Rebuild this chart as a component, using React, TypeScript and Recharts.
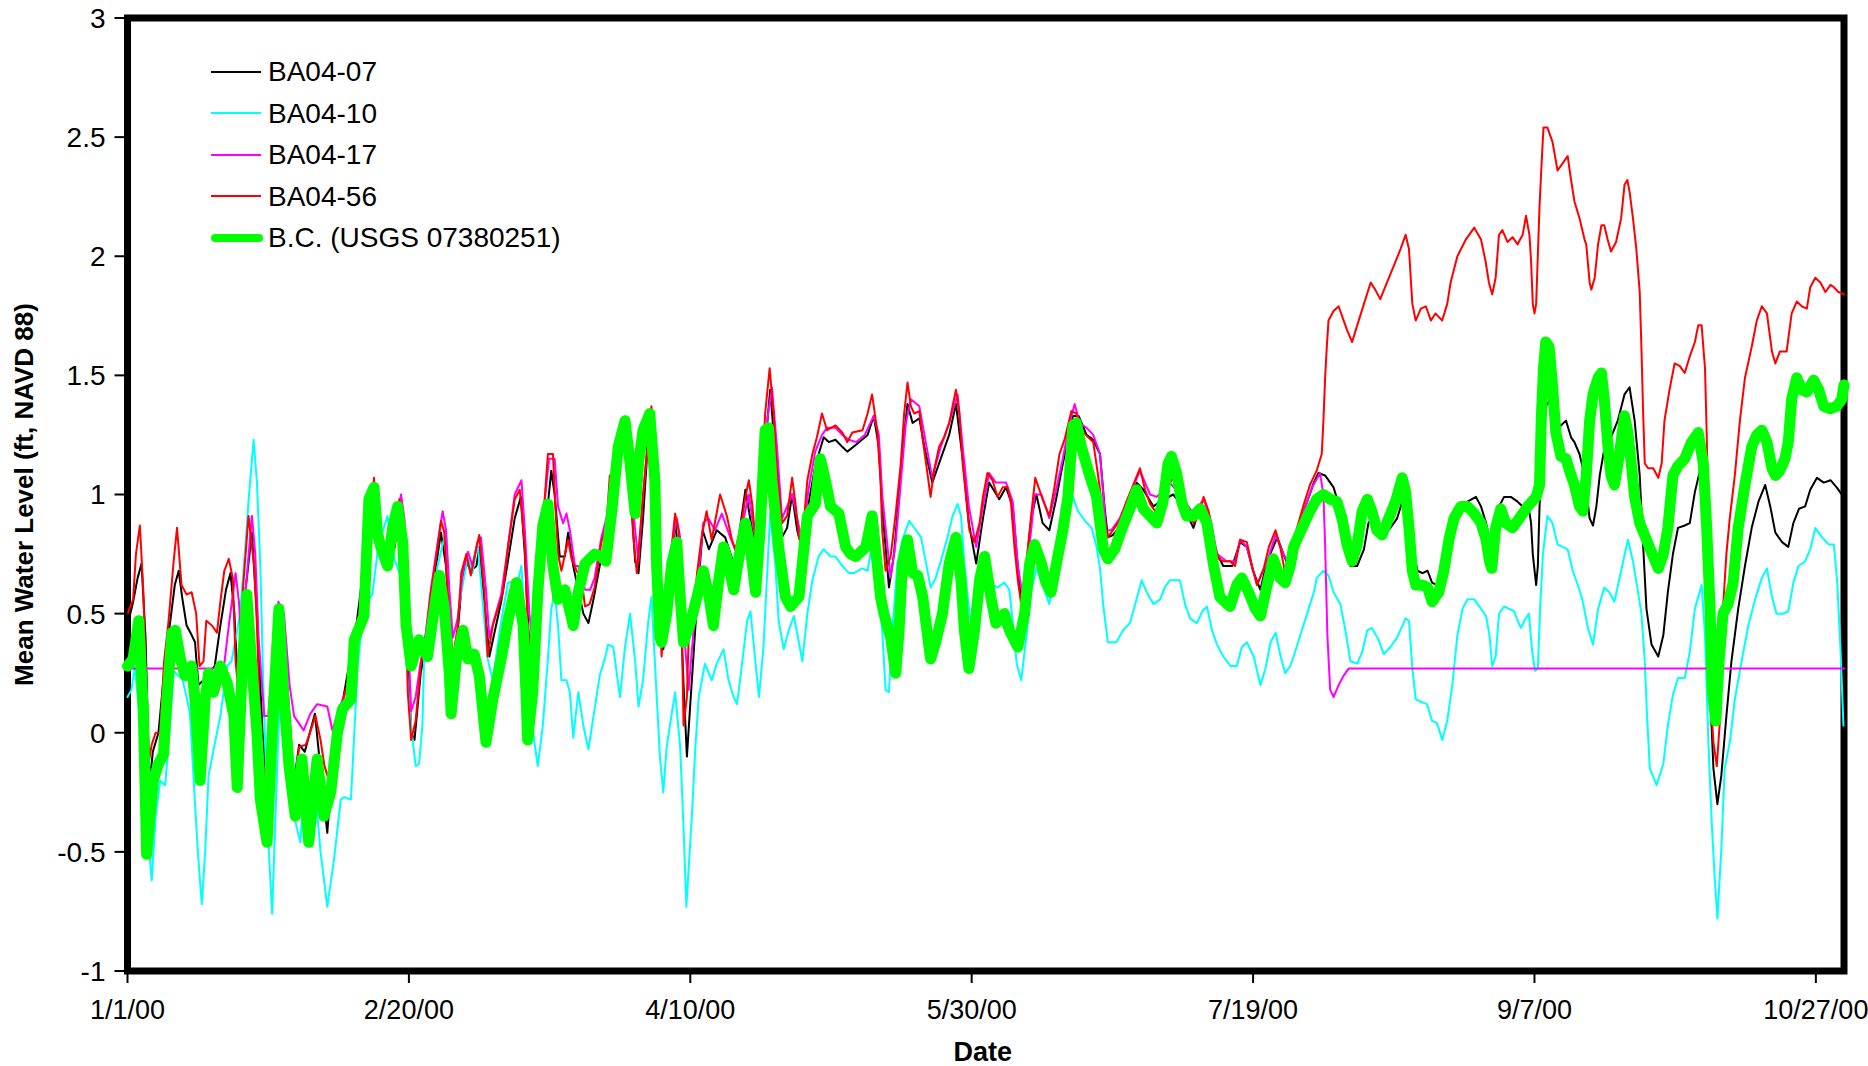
import React from 'react';
import { LineChart, Line, XAxis, YAxis, ReferenceArea, Legend, Label } from 'recharts';

// Axis ticks: x is day of year 2000 (0 = 1/1/00)
const X_TICKS = [0, 50, 100, 150, 200, 250, 300];
const X_TICK_LABELS = ['1/1/00', '2/20/00', '4/10/00', '5/30/00', '7/19/00', '9/7/00', '10/27/00'];
const Y_TICKS = [-1, -0.5, 0, 0.5, 1, 1.5, 2, 2.5, 3];

// [day, mean water level (ft, NAVD 88)]
const BA04_07: [number, number][] = [
  [0,0.45],[1,0.55],[1.8,0.65],[2.5,0.71],[3.2,0.4],[3.9,-0.22],[4.5,-0.08],[5.5,0.0],[6.5,0.25],[7.5,0.45],[8.4,0.62],[9.1,0.68],[9.7,0.57],[10.5,0.45],[11.4,0.41],[12.0,0.38],[12.6,0.2],[13.5,0.22],[14.4,0.25],[15.5,0.28],[16.5,0.45],[17.5,0.6],[18.3,0.67],[19.0,0.5],[19.6,0.2],[20.5,0.5],[22.1,0.84],[23.0,0.5],[24.0,0.0],[25.5,-0.42],[26.2,-0.1],[27.0,0.45],[28.0,0.2],[29.5,-0.22],[30.5,-0.05],[31.5,-0.08],[33.3,0.08],[34.5,-0.2],[35.5,-0.42],[36.5,-0.1],[38.0,0.1],[39.5,0.3],[40.5,0.42],[42.0,0.7],[43.5,1.0],
  [44.4,0.83],[45.5,0.74],[46.5,0.72],[47.5,0.78],[48.3,0.95],[49.5,0.55],[50.4,0.0],[51.0,-0.03],[52.1,0.25],[53.3,0.4],[54.5,0.65],[55.7,0.84],[56.6,0.7],[57.5,0.3],[58.4,0.35],[59.3,0.6],[60.2,0.72],[61.0,0.68],[62.0,0.7],[62.5,0.78],[63.4,0.55],[64.3,0.32],[65.2,0.42],[66.4,0.55],[67.6,0.72],[68.8,0.9],[69.9,0.99],[70.6,0.75],[71.4,0.35],[72.0,0.28],[73.0,0.4],[74.1,0.82],[75.3,1.1],[75.9,1.0],[76.8,0.74],[77.7,0.74],[78.3,0.84],[79.2,0.7],[80.1,0.6],[81.0,0.5],[81.9,0.46],[82.8,0.56],[83.9,0.7],[85.1,0.82],[86.0,1.0],
  [87.0,1.05],[88.4,1.27],[89.3,1.05],[90.2,0.72],[90.8,0.67],[91.6,0.9],[92.8,1.34],[93.7,1.0],[94.5,0.55],[95.2,0.35],[96.1,0.5],[97.3,0.9],[98.0,0.7],[98.8,0.2],[99.4,-0.1],[100.0,0.12],[101.2,0.55],[102.2,0.85],[103.3,0.77],[104.7,0.85],[106.2,0.82],[107.7,0.71],[108.6,0.82],[109.8,1.02],[111.0,0.85],[111.6,0.78],[112.5,0.9],[113.3,1.2],[114.2,1.44],[115.0,1.2],[116.3,0.82],[117.2,0.86],[118.1,1.0],[119.0,0.85],[119.9,0.77],[121.0,0.96],[122.2,1.12],[123.7,1.24],[124.6,1.22],[125.8,1.23],[127.0,1.2],[127.9,1.18],
  [129.5,1.21],[131.5,1.25],[132.6,1.33],[133.5,1.2],[134.1,0.95],[135.3,0.61],[136.2,0.75],[137.1,1.0],[138.0,1.25],[138.6,1.38],[139.5,1.3],[140.7,1.32],[141.6,1.2],[143.0,1.05],[144.5,1.15],[146.0,1.25],[147.2,1.38],[148.4,1.15],[149.5,0.88],[150.8,0.71],[152.0,0.9],[153.1,1.05],[154.9,0.98],[156.1,1.03],[157.3,0.95],[158.0,0.75],[158.8,0.55],[159.7,0.7],[160.6,0.9],[161.5,1.0],[162.6,0.88],[163.8,0.85],[165.0,0.98],[166.2,1.13],[168.0,1.33],
  [169.0,1.33],[170.4,1.25],[171.6,1.23],[172.8,1.17],[173.6,0.95],[174.2,0.82],[175.1,0.83],[176.6,0.87],[178.1,0.95],[179.3,1.05],[180.5,1.02],[182.3,0.95],[183.5,0.97],[185.8,1.0],[187.6,0.95],[189.4,0.86],[190.6,0.95],[191.8,0.9],[193.0,0.78],[194.7,0.7],[196.3,0.7],[197.7,0.8],[198.9,0.78],[200.0,0.68],[201.3,0.6],[202.5,0.72],[204.3,0.82],[205.4,0.75],[206.6,0.68],
  [207.2,0.8],[209.0,0.93],[210.8,1.05],[211.6,1.09],[212.8,1.08],[214.3,1.03],[215.2,0.96],[216.1,0.85],[217.3,0.7],[218.5,0.7],[219.7,0.77],[220.5,0.88],[221.1,0.9],[222.0,0.83],[223.2,0.83],[224.4,0.86],[225.6,0.9],[226.5,0.97],[227.1,0.9],[228.0,0.86],[228.6,0.75],[229.2,0.68],[230.1,0.67],[231.0,0.68],[231.8,0.63],[232.7,0.62],[233.9,0.68],[235.1,0.81],[236.3,0.92],[238.1,0.97],[239.6,0.99],[240.5,0.95],[241.4,0.88],[242.2,0.79],[242.8,0.86],[243.7,0.95],[244.6,0.99],[245.8,0.99],[247.0,0.97],[247.9,0.95],[248.8,0.97],[249.4,0.88],[249.7,0.75],[250.3,0.62],[250.6,0.7],[250.9,0.95],[251.5,1.22],[252.0,1.37],[252.9,1.4],[253.8,1.31],[254.7,1.29],[255.6,1.31],[256.5,1.24],[257.1,1.22],[258.0,1.17],[258.9,1.08],
  [259.8,0.9],[260.4,0.87],[261.0,0.95],[261.6,1.08],[262.4,1.19],[263.6,1.24],[264.8,1.31],[266.0,1.42],[266.9,1.45],[267.8,1.31],[268.7,1.08],[269.3,0.79],[269.9,0.52],[270.8,0.37],[272.0,0.32],[272.9,0.41],[273.7,0.59],[274.6,0.75],[275.5,0.86],[276.7,0.87],[277.6,0.88],[278.5,1.01],[279.4,1.1],[280.0,1.08],[280.6,0.75],[281.2,0.18],[281.8,-0.15],[282.5,-0.3],[283.2,-0.18],[284.1,0.07],[285.0,0.3],[286.2,0.52],[287.4,0.7],[288.6,0.86],[289.8,0.97],[291.0,1.04],[291.9,0.95],[292.8,0.84],[294.0,0.8],[295.1,0.78],[296.0,0.88],[297.0,0.94],[298.1,0.95],[299.0,1.02],[300.2,1.07],[301.4,1.05],[302.6,1.06],[303.7,1.03],[304.9,0.99],
];

const BA04_10: [number, number][] = [
  [0,0.15],[0.7,0.18],[1.3,0.28],[2.0,0.1],[2.6,-0.1],[3.5,-0.4],[4.3,-0.62],[5.0,-0.35],[5.8,-0.2],[6.7,-0.22],[7.6,0.05],[8.2,0.26],[9.0,0.24],[9.7,0.23],[10.5,0.15],[11.1,0.08],[12.0,-0.3],[12.5,-0.5],[13.2,-0.72],[13.8,-0.5],[14.4,-0.18],[15.3,-0.07],[16.5,0.07],[17.7,0.28],[18.5,0.3],[20.0,0.5],[21.0,0.8],[21.5,0.97],[22.4,1.23],[23.0,1.05],[23.6,0.7],[24.2,0.14],[25.1,-0.49],[25.7,-0.76],[26.6,-0.14],[27.4,0.45],[28.0,0.2],[28.7,-0.2],[29.6,-0.35],[30.7,-0.46],[31.3,-0.25],[32.0,-0.28],[33.1,-0.17],[34.3,-0.5],[35.5,-0.73],[36.7,-0.53],[37.9,-0.28],[38.5,-0.27],[39.7,-0.28],[40.3,0.0],[40.9,0.28],[41.5,0.42],[42.6,0.55],[43.5,0.58],[44.6,0.79],[46.2,0.91],[47.4,0.73],[48.5,0.66],[49.7,0.24],[50.4,0.03],[51.2,-0.14],[51.8,-0.13],[52.4,0.03],[52.7,0.31],[53.9,0.48],[55.1,0.7],[56.6,0.85],[57.5,0.38],[58.4,0.45],[59.3,0.59],[60.5,0.74],[61.3,0.67],[62.2,0.8],[63.4,0.47],[64.0,0.31],[64.9,0.22],[66.4,0.47],[67.6,0.63],[69.4,0.64],[70.0,0.7],[70.6,0.45],[71.4,0.17],[72.3,-0.04],[72.9,-0.14],[73.8,0.03],[74.7,0.31],[75.3,0.52],[75.9,0.59],[76.5,0.45],[77.1,0.22],[78.0,0.22],[78.6,0.17],[79.2,-0.02],[80.1,0.17],[81.0,0.03],[81.9,-0.07],[83.0,0.1],[83.9,0.24],[84.8,0.31],[85.4,0.37],
  [86.3,0.36],[87.5,0.15],[88.4,0.36],[89.3,0.5],[90.2,0.3],[90.8,0.11],[91.6,0.22],[92.5,0.46],[93.1,0.57],[93.7,0.3],[94.6,-0.1],[95.2,-0.25],[95.8,-0.06],[96.7,0.08],[97.3,0.17],[98.2,-0.06],[98.8,-0.4],[99.3,-0.73],[100.3,-0.34],[100.9,-0.06],[101.5,0.15],[102.6,0.29],[103.8,0.22],[104.7,0.29],[105.9,0.35],[106.8,0.22],[107.7,0.15],[108.3,0.12],[109.2,0.29],[110.1,0.47],[110.7,0.51],[111.6,0.29],[112.2,0.15],[113.0,0.36],[113.6,0.64],[114.2,0.92],[115.1,0.71],[115.7,0.47],[116.6,0.35],[117.5,0.43],[118.4,0.49],[119.3,0.38],[119.9,0.3],[120.8,0.5],[121.7,0.64],[122.8,0.74],[123.7,0.77],[124.9,0.74],[125.8,0.74],[127.0,0.7],[128.2,0.67],[129.1,0.67],[130.5,0.69],[131.5,0.68],[132.3,0.79],[132.9,0.71],[133.5,0.57],[134.1,0.43],[134.7,0.18],[135.3,0.17],[135.9,0.43],[136.8,0.71],[137.7,0.81],[138.9,0.89],[140.1,0.85],[141.0,0.82],[141.9,0.71],[142.7,0.61],[143.6,0.65],[144.5,0.72],[145.7,0.82],[146.6,0.91],[147.5,0.96],[148.1,0.91],[148.7,0.71],[149.6,0.5],[150.2,0.43],[151.1,0.5],[152.0,0.6],[152.8,0.64],[153.7,0.62],[154.6,0.61],[155.8,0.63],[156.7,0.6],[157.3,0.46],[158.0,0.29],[158.8,0.22],[159.7,0.4],[160.6,0.6],[161.5,0.69],[162.6,0.62],[163.8,0.54],[164.7,0.67],[165.6,0.81],[166.8,0.89],[168.0,0.99],[168.9,0.93],[170.1,0.89],[171.3,0.86],[172.2,0.78],[172.8,0.69],[173.4,0.53],[174.2,0.38],[175.7,0.38],[176.9,0.43],[178.1,0.46],[179.3,0.56],[180.2,0.64],[181.1,0.59],[182.3,0.54],[183.5,0.56],[184.3,0.61],[185.2,0.64],[187.0,0.64],[187.9,0.54],[188.8,0.48],[190.0,0.46],[191.0,0.51],[191.8,0.53],[192.7,0.43],[193.6,0.37],[194.7,0.32],[196.0,0.28],[197.1,0.28],[198.0,0.36],[198.9,0.38],[200.1,0.32],[201.3,0.2],[202.2,0.27],[203.1,0.38],[204.0,0.42],[204.8,0.33],[205.7,0.25],[206.6,0.28],[207.2,0.32],[208.4,0.41],[209.6,0.5],[210.8,0.59],[211.3,0.65],[212.5,0.68],[213.4,0.66],[214.3,0.59],[215.5,0.54],[216.4,0.43],[217.3,0.3],[218.5,0.29],[219.4,0.34],[220.3,0.43],[221.1,0.44],[222.3,0.39],[223.2,0.33],[224.4,0.36],[225.6,0.4],[227.1,0.48],[227.7,0.47],[228.3,0.27],[228.9,0.14],[229.8,0.13],[230.9,0.12],[231.8,0.05],[232.7,0.04],[233.6,-0.03],[234.5,0.05],[235.4,0.2],[236.3,0.41],[237.2,0.52],[238.1,0.56],[239.3,0.56],[240.5,0.52],[241.4,0.49],[242.0,0.41],[242.5,0.28],[243.1,0.32],[243.7,0.5],[244.6,0.53],[245.5,0.52],[246.4,0.51],[247.0,0.47],[247.6,0.44],[248.2,0.47],[249.0,0.5],[249.6,0.34],[250.1,0.26],[250.6,0.27],[251.0,0.52],[251.5,0.75],[252.3,0.91],[253.2,0.88],[254.1,0.79],[255.0,0.78],[255.9,0.77],[256.8,0.68],[257.7,0.62],[258.5,0.56],[259.5,0.44],[260.4,0.37],[261.3,0.52],[262.4,0.61],[263.3,0.59],[264.2,0.55],[265.4,0.68],[266.6,0.81],[267.5,0.72],[268.4,0.59],[269.0,0.5],[269.6,0.3],[270.0,0.07],[270.5,-0.15],[271.7,-0.22],[272.9,-0.13],[273.7,0.03],[274.6,0.16],[275.5,0.23],[276.7,0.23],[277.6,0.34],[278.5,0.52],[279.7,0.62],[280.3,0.41],[280.9,-0.04],[281.5,-0.38],[282.0,-0.6],[282.5,-0.78],[283.2,-0.49],[283.8,-0.15],[284.7,-0.04],[285.6,0.14],[286.8,0.3],[288.0,0.45],[289.2,0.56],[290.4,0.65],[291.3,0.69],[292.2,0.57],[293.0,0.5],[294.2,0.5],[295.1,0.51],[296.0,0.63],[296.9,0.7],[298.1,0.72],[299.0,0.77],[299.9,0.86],[301.1,0.82],[302.3,0.79],[303.2,0.79],[303.8,0.63],[304.4,0.34],[304.9,0.03],
];

const BA04_17: [number, number][] = [
  [0,0.27],[17.1,0.27],[18.0,0.45],[19.2,0.67],[19.8,0.55],[20.3,0.35],[21.0,0.6],[22.1,0.91],[22.7,0.75],[23.3,0.4],[24.3,0.07],[25.0,0.07],[25.8,0.3],[26.8,0.55],[27.8,0.5],[28.8,0.2],[29.6,0.07],[31.3,0.01],[32.5,0.08],[33.7,0.12],[35.5,0.11],[36.4,0.01],[37.9,0.12],[39.2,0.2],[40.3,0.38],[41.2,0.5],[42.3,0.7],[43.5,0.98],
  [44.4,0.88],[45.5,0.8],[46.5,0.8],[47.5,0.85],[48.6,1.0],[49.2,0.9],[49.8,0.45],[50.4,0.09],[51.2,0.15],[52.1,0.3],[53.0,0.42],[53.9,0.6],[55.0,0.78],[56.0,0.93],[56.6,0.85],[57.2,0.6],[57.8,0.4],[58.7,0.48],[59.6,0.68],[60.5,0.76],[61.3,0.7],[62.2,0.8],[62.8,0.82],[63.7,0.6],[64.3,0.4],[65.2,0.48],[66.4,0.58],[67.6,0.78],[68.8,1.0],[70.0,1.06],[70.6,0.85],[71.4,0.5],[72.0,0.38],[72.9,0.42],[73.8,0.9],[74.9,1.15],[75.9,1.15],[76.5,0.95],[77.4,0.88],[78.0,0.92],[78.6,0.85],[79.5,0.7],[80.1,0.7],[81.3,0.6],[82.2,0.6],[83.0,0.65],[84.2,0.82],[85.4,0.93],[86.0,1.05],
  [87.0,1.1],[88.4,1.28],[89.3,1.12],[90.2,0.85],[90.8,0.72],[91.6,1.0],[92.8,1.3],[93.4,1.35],[94.0,1.0],[94.9,0.45],[95.5,0.5],[96.4,0.75],[97.6,0.9],[98.2,0.82],[98.8,0.45],[99.7,0.18],[100.3,0.35],[101.2,0.6],[102.3,0.88],[103.2,0.9],[104.4,0.85],[105.6,0.92],[107.1,0.82],[108.3,0.75],[109.5,0.9],[110.4,1.0],[111.3,0.85],[112.2,0.82],[113.3,1.25],[114.5,1.45],[115.4,1.2],[116.3,0.9],[117.2,0.95],[118.1,1.0],[119.0,0.9],[119.9,0.8],[121.0,1.02],[122.2,1.18],[123.4,1.25],[124.3,1.28],[125.8,1.28],[127.0,1.25],[128.2,1.23],
  [129.5,1.22],[131.0,1.25],[132.6,1.33],[133.5,1.25],[134.1,1.0],[135.6,0.65],[136.5,0.8],[137.4,1.05],[138.3,1.3],[139.2,1.4],[140.7,1.37],[141.6,1.25],[143.0,1.07],[144.5,1.2],[146.0,1.3],[147.5,1.42],[148.4,1.2],[149.5,0.95],[150.8,0.78],[152.0,0.95],[153.1,1.09],[154.3,1.05],[156.1,1.05],[157.3,0.97],[158.2,0.7],[159.1,0.57],[160.0,0.72],[161.2,1.0],[162.4,1.0],[163.8,0.9],[165.0,1.02],[166.2,1.15],[167.4,1.3],[168.3,1.38],[169.2,1.3],[170.4,1.28],[171.6,1.25],
  [172.8,1.17],[173.9,0.85],[174.8,0.85],[176.3,0.9],[178.1,1.0],[179.9,1.1],[181.7,1.0],[182.9,0.99],[185.2,1.05],[187.0,1.0],[189.4,0.92],[191.2,0.98],[192.4,0.9],[193.6,0.75],[195.3,0.72],[196.8,0.72],[197.7,0.81],[198.9,0.78],[200.7,0.62],[202.5,0.72],[204.0,0.83],[205.4,0.75],[206.6,0.7],
  [207.5,0.8],[209.0,0.93],[210.5,1.03],[211.9,1.09],[212.5,1.0],[212.8,0.79],[213.2,0.41],[213.7,0.18],[214.3,0.15],[215.2,0.2],[216.1,0.24],[217.0,0.27],[305,0.27],
];

const BA04_56: [number, number][] = [
  [0,0.5],[1,0.56],[1.5,0.75],[2.2,0.87],[2.8,0.6],[3.3,0.2],[3.8,-0.12],[4.3,-0.05],[5,0.0],[5.8,0.0],[6.5,0.3],[7.3,0.47],[8.2,0.72],[8.8,0.86],[9.6,0.62],[10.5,0.58],[11.4,0.59],[12.2,0.5],[12.8,0.28],[13.5,0.3],[14.0,0.47],[15.0,0.45],[15.9,0.42],[16.5,0.55],[17.2,0.68],[18,0.73],[18.7,0.65],[19.2,0.3],[19.8,0.15],[20.5,0.6],[21.5,0.91],[22.5,0.7],[23,0.45],[23.6,0.0],[24.8,-0.33],[25.6,-0.3],[26.3,0.1],[27,0.47],[28,0.35],[29,0.0],[29.6,-0.24],[30.5,-0.06],[31.7,-0.05],[33.4,0.07],[34.3,-0.03],[35.0,-0.14],[35.8,-0.2],[36.7,0.0],[38,0.11],[39.5,0.24],[40.9,0.46],[42,0.6],[43.2,0.9],[43.8,1.07],
  [44.4,0.86],[45.5,0.78],[46.5,0.78],[47.5,0.8],[48.3,0.98],[48.9,0.87],[49.5,0.59],[49.8,0.17],[50.4,-0.03],[51.2,0.05],[52.1,0.28],[53.0,0.4],[53.9,0.59],[54.8,0.73],[55.7,0.89],[56.3,0.84],[56.9,0.59],[57.8,0.31],[58.7,0.45],[59.3,0.67],[60.2,0.75],[61.0,0.66],[62.0,0.78],[62.5,0.83],[63.4,0.59],[64.0,0.32],[64.9,0.45],[65.8,0.52],[66.7,0.59],[67.6,0.78],[68.8,0.98],[69.7,1.02],[70.6,0.78],[71.1,0.45],[71.7,0.31],[72.6,0.33],[73.8,0.87],[74.7,1.17],[75.6,1.17],[76.0,0.96],[76.5,0.75],[77.1,0.68],[78.3,0.81],[78.9,0.73],[79.8,0.68],[80.7,0.64],[81.3,0.53],[82.1,0.54],[83.0,0.61],[84.2,0.8],[85.1,0.87],[85.7,1.08],
  [86.0,1.06],[86.9,1.1],[88.4,1.3],[89.0,1.15],[89.9,0.82],[90.5,0.67],[91.0,0.82],[91.6,0.99],[92.5,1.24],[93.1,1.37],[93.7,1.1],[94.3,0.71],[94.9,0.32],[95.2,0.43],[95.8,0.57],[96.7,0.78],[97.3,0.92],[97.9,0.85],[98.5,0.43],[98.8,0.03],[99.4,0.15],[99.7,0.39],[100.6,0.5],[101.2,0.67],[102.0,0.82],[102.9,0.93],[103.8,0.81],[105.3,1.0],[106.5,0.91],[107.4,0.81],[108.0,0.77],[108.9,0.85],[109.8,0.99],[110.4,1.06],[111.0,0.96],[111.6,0.8],[112.4,0.92],[113.3,1.34],[114.1,1.53],[114.8,1.34],[115.4,1.1],[116.3,0.88],[117.2,0.91],[118.1,1.07],[118.7,0.96],[119.3,0.82],[119.9,0.81],[120.8,1.06],[121.7,1.17],[122.5,1.24],[123.4,1.34],[124.3,1.27],[125.8,1.29],
  [127.0,1.26],[127.9,1.22],[128.8,1.26],[130.6,1.27],[131.5,1.34],[132.3,1.42],[133.2,1.27],[133.8,1.06],[134.1,0.85],[134.7,0.68],[135.6,0.74],[136.5,0.92],[137.4,1.13],[138.0,1.34],[138.6,1.47],[139.2,1.37],[139.8,1.34],[140.7,1.35],[141.3,1.23],[141.9,1.13],[142.7,0.99],[143.3,1.1],[144.2,1.2],[145.1,1.24],[146.0,1.3],[147.2,1.44],[147.8,1.34],[148.4,1.13],[149.0,0.99],[149.6,0.85],[150.5,0.8],[151.4,0.88],[152.0,0.99],[152.8,1.09],[153.7,1.06],[154.6,0.99],[155.5,1.03],[156.4,1.03],[157.0,0.96],[157.6,0.78],[158.2,0.64],[158.8,0.54],[159.7,0.71],[160.6,0.92],[161.3,1.07],[162.6,0.98],[163.8,0.91],[164.7,1.03],[165.6,1.17],[166.5,1.23],[167.7,1.35],[168.6,1.34],[169.5,1.27],[170.7,1.24],[171.6,1.22],
  [172.4,1.09],[173.6,0.88],[174.2,0.82],[175.1,0.85],[176.3,0.89],[177.5,0.97],[178.7,1.04],[179.9,1.11],[180.8,1.02],[181.7,0.96],[182.6,0.93],[183.8,0.97],[185.0,1.04],[185.8,1.07],[187.0,1.01],[188.2,0.94],[189.4,0.88],[190.3,0.91],[191.2,0.99],[192.1,0.93],[193.0,0.8],[193.9,0.73],[194.7,0.72],[195.9,0.72],[196.8,0.7],[197.7,0.81],[198.9,0.8],[199.8,0.7],[200.7,0.62],[201.9,0.69],[202.8,0.78],[204.0,0.85],[204.9,0.77],[205.7,0.67],[206.6,0.69],[207.2,0.81],
  [208.9,0.95],[210.1,1.04],[211.3,1.1],[212.2,1.17],[212.5,1.31],[212.8,1.49],[213.1,1.62],[213.4,1.73],[214.3,1.77],[215.2,1.79],[216.1,1.73],[216.7,1.69],[217.6,1.64],[218.5,1.71],[219.7,1.8],[220.9,1.89],[221.7,1.86],[222.6,1.82],[223.8,1.89],[225.0,1.96],[226.2,2.03],[227.1,2.09],[227.7,2.03],[228.3,1.8],[228.9,1.73],[229.8,1.78],[230.7,1.79],[231.6,1.73],[232.4,1.76],[233.6,1.73],[234.5,1.8],[235.1,1.89],[236.3,2.0],[237.8,2.07],[239.3,2.12],[240.5,2.07],[241.3,1.98],[241.9,1.89],[242.5,1.84],[243.1,1.91],[243.7,2.09],[244.3,2.11],[245.2,2.06],[246.1,2.08],[247.0,2.05],[247.9,2.09],[248.5,2.17],[249.1,2.09],[249.4,1.98],[249.7,1.8],[250.0,1.76],[250.3,1.8],[250.9,2.21],[251.2,2.36],[251.6,2.54],[252.3,2.54],[253.2,2.48],[254.1,2.36],[255.0,2.39],[255.9,2.42],[256.5,2.32],[257.1,2.23],[258.0,2.16],[258.9,2.07],
  [259.2,2.05],[259.8,1.89],[260.1,1.86],[260.7,1.91],[261.3,2.05],[261.9,2.13],[262.4,2.13],[263.0,2.07],[263.6,2.02],[264.5,2.06],[265.4,2.16],[266.0,2.3],[266.5,2.32],[266.9,2.27],[267.5,2.16],[268.1,2.03],[268.7,1.85],[269.0,1.62],[269.3,1.35],[269.6,1.13],[270.2,1.11],[271.1,1.11],[272.0,1.07],[272.6,1.13],[273.1,1.31],[274.0,1.44],[274.9,1.55],[275.8,1.54],[276.7,1.51],[277.6,1.58],[278.5,1.64],[279.1,1.71],[279.7,1.71],[280.3,1.53],[280.6,1.26],[280.9,0.86],[281.2,0.18],[281.8,-0.04],[282.4,-0.14],[283.0,0.07],[283.5,0.52],[284.1,0.75],[284.7,0.9],[285.6,1.08],[286.5,1.31],[287.4,1.49],[288.6,1.62],[289.5,1.73],[290.4,1.79],[291.3,1.76],[292.2,1.6],[292.8,1.55],[293.6,1.6],[294.8,1.6],[295.7,1.76],[296.6,1.81],[297.5,1.79],[298.4,1.78],[299.0,1.87],[299.9,1.91],[300.8,1.89],[301.7,1.85],[302.6,1.88],[303.2,1.87],[304.0,1.85],[305,1.84],
];

const BC_USGS: [number, number][] = [
  [0,0.28],[1.0,0.31],[2.0,0.47],[2.8,0.1],[3.4,-0.51],[4.0,-0.35],[4.6,-0.2],[5.5,-0.13],[6.4,-0.09],[7.0,0.14],[7.9,0.42],[8.5,0.43],[9.4,0.31],[10.2,0.24],[11.4,0.28],[12.0,0.14],[12.9,-0.2],[13.8,0.14],[14.4,0.25],[15.3,0.17],[16.5,0.28],[17.7,0.21],[18.9,0.07],[19.5,-0.23],[20.4,0.28],[21.2,0.58],[22.1,0.28],[23.0,0.0],[23.6,-0.28],[24.8,-0.46],[26.0,0.14],[26.9,0.52],[27.8,0.14],[28.7,-0.14],[29.8,-0.35],[31.0,-0.11],[32.2,-0.46],[33.7,-0.11],[34.9,-0.35],[36.1,-0.25],[37.3,0.0],[38.2,0.1],[39.7,0.14],[40.3,0.39],[42.0,0.49],[42.9,0.98],[43.8,1.03],[44.4,0.84],[45.0,0.78],[46.2,0.7],[47.1,0.86],[48.0,0.95],[48.9,0.8],[49.5,0.45],[50.4,0.28],[51.8,0.39],[53.3,0.32],[54.2,0.47],[55.4,0.66],[56.3,0.52],[57.2,0.24],[57.5,0.08],[58.4,0.3],[59.6,0.43],[60.5,0.31],[61.6,0.33],[62.5,0.24],[63.7,-0.04],[64.9,0.14],[66.4,0.31],[67.6,0.47],[69.1,0.63],[70.3,0.45],[70.8,0.17],[71.1,-0.03],[72.0,0.17],[72.9,0.59],[73.8,0.87],[74.7,0.96],[75.6,0.7],[76.5,0.56],[77.7,0.6],[79.2,0.45],[80.1,0.59],[81.3,0.71],[83.0,0.75],[84.2,0.74],[85.0,0.72],[86.0,0.92],[87.2,1.2],[88.4,1.31],[89.3,1.13],[90.2,0.92],[90.8,1.13],[91.6,1.27],[92.8,1.34],[93.7,1.06],[94.0,0.71],[94.6,0.4],[94.9,0.38],[95.8,0.5],[96.7,0.71],[97.6,0.8],[98.2,0.57],[98.8,0.38],[100.0,0.46],[101.2,0.57],[102.3,0.68],[103.2,0.59],[104.1,0.45],[105.0,0.63],[105.9,0.78],[106.8,0.71],[107.7,0.6],[108.6,0.73],[109.8,0.88],[110.7,0.77],[111.6,0.59],[112.4,0.85],[113.3,1.27],[113.9,1.28],[114.5,1.06],[115.7,0.78],[116.9,0.57],[117.8,0.53],[119.3,0.57],[119.9,0.71],[120.8,0.91],[122.2,0.96],[123.1,1.15],[124.0,1.06],[124.9,0.95],[126.4,0.92],[127.6,0.78],[128.5,0.75],[129.4,0.74],[131.2,0.78],[132.3,0.91],[133.2,0.71],[133.8,0.57],[134.4,0.5],[135.6,0.4],[136.5,0.25],[137.1,0.43],[137.7,0.71],[138.6,0.81],[139.5,0.67],[140.4,0.66],[141.3,0.57],[142.2,0.4],[142.7,0.31],[143.6,0.38],[144.8,0.5],[146.0,0.71],[147.2,0.82],[148.1,0.64],[148.7,0.43],[149.5,0.27],[150.5,0.43],[151.4,0.64],[152.3,0.74],[153.4,0.57],[154.3,0.46],[155.8,0.5],[156.7,0.43],[158.2,0.36],[159.4,0.5],[160.3,0.71],[161.2,0.79],[162.4,0.71],[163.2,0.63],[164.1,0.59],[165.3,0.74],[166.2,0.85],[167.1,0.99],[168.0,1.29],[168.6,1.3],[169.5,1.2],[170.7,1.1],[172.2,0.99],[173.4,0.77],[174.2,0.73],[175.4,0.77],[176.6,0.85],[178.1,0.94],[179.3,1.02],[180.5,0.94],[181.7,0.91],[182.9,0.88],[184.0,0.97],[184.9,1.13],[185.5,1.16],[186.4,1.09],[187.3,0.97],[188.2,0.91],[189.4,0.91],[190.6,0.94],[191.8,0.88],[193.0,0.7],[194.1,0.57],[195.9,0.53],[197.1,0.62],[198.0,0.65],[199.2,0.59],[200.4,0.52],[201.3,0.49],[202.5,0.62],[203.6,0.73],[204.8,0.65],[205.7,0.63],[206.6,0.7],[207.2,0.78],[208.9,0.87],[210.1,0.93],[211.3,0.98],[212.5,1.0],[213.7,0.98],[214.9,0.97],[215.8,0.9],[216.7,0.79],[217.6,0.72],[218.5,0.79],[219.4,0.93],[220.3,0.98],[221.1,0.93],[222.0,0.85],[222.9,0.83],[224.1,0.9],[225.3,0.97],[226.5,1.07],[227.1,1.01],[227.7,0.86],[228.3,0.68],[228.9,0.62],[230.1,0.62],[231.0,0.61],[231.8,0.55],[233.0,0.59],[233.9,0.68],[234.8,0.81],[235.7,0.9],[236.9,0.95],[238.1,0.95],[239.3,0.92],[240.5,0.88],[241.4,0.81],[242.0,0.72],[242.4,0.69],[243.1,0.86],[244.0,0.94],[244.9,0.88],[246.1,0.86],[247.3,0.9],[248.8,0.95],[250.3,0.99],[250.9,1.04],[251.2,1.31],[251.6,1.53],[252.0,1.64],[252.6,1.62],[253.2,1.46],[253.8,1.26],[254.7,1.16],[255.6,1.15],[256.5,1.08],[257.1,1.04],[258.0,0.95],[258.6,0.93],[259.2,1.08],[259.8,1.31],[260.4,1.42],[261.3,1.49],[261.9,1.51],[262.4,1.4],[263.0,1.22],[263.6,1.08],[264.2,1.04],[265.1,1.17],[266.0,1.33],[266.6,1.26],[267.2,1.13],[267.8,0.99],[268.7,0.88],[269.9,0.81],[271.1,0.74],[272.0,0.69],[272.9,0.75],[273.7,0.86],[274.6,1.08],[275.5,1.12],[276.7,1.15],[277.9,1.22],[279.1,1.26],[280.0,1.13],[280.6,0.86],[281.2,0.52],[281.6,0.18],[282.2,0.05],[282.8,0.3],[283.5,0.5],[284.4,0.54],[285.3,0.63],[286.2,0.86],[287.4,1.04],[288.6,1.2],[289.5,1.25],[290.4,1.27],[291.3,1.22],[292.2,1.11],[292.8,1.08],[293.6,1.1],[294.5,1.15],[295.1,1.22],[295.7,1.4],[296.6,1.49],[297.5,1.44],[298.4,1.43],[299.6,1.48],[300.5,1.44],[301.4,1.37],[302.6,1.36],[303.7,1.37],[304.6,1.4],[305,1.46],
];

const SERIES = [
  { name: 'BA04-07', points: BA04_07, color: '#000000', width: 2 },
  { name: 'BA04-10', points: BA04_10, color: '#00FFFF', width: 2 },
  { name: 'BA04-17', points: BA04_17, color: '#FF00FF', width: 2 },
  { name: 'BA04-56', points: BA04_56, color: '#FF0000', width: 2 },
  { name: 'B.C. (USGS 07380251)', points: BC_USGS, color: '#00FF00', width: 11 },
];

const FONT = '"Liberation Sans", Arial, sans-serif';

const toRows = (pts: [number, number][]) => pts.map(([d, v]) => ({ d, v }));

const LegendBox = () => (
  <div style={{ fontFamily: FONT, fontSize: 28, color: '#000' }}>
    {SERIES.map((s) => (
      <div key={s.name} style={{ display: 'flex', alignItems: 'center', height: 41.5 }}>
        <svg width={52} height={14} style={{ display: 'block' }}>
          <line
            x1={s.width > 2 ? 4 : 0}
            x2={s.width > 2 ? 48 : 50}
            y1={7}
            y2={7}
            stroke={s.color}
            strokeWidth={s.width > 2 ? 8 : 2}
            strokeLinecap={s.width > 2 ? 'round' : 'butt'}
          />
        </svg>
        <span style={{ marginLeft: 5, lineHeight: '41px', whiteSpace: 'nowrap' }}>{s.name}</span>
      </div>
    ))}
  </div>
);

export default function App() {
  return (
    <div style={{ position: 'absolute', left: 0, top: 0, width: 1868, height: 1066, background: '#fff' }}>
      <LineChart
        width={1868}
        height={1066}
        margin={{ top: 18, right: 24, bottom: 0, left: 0 }}
        style={{ fontFamily: FONT }}
      >
        <XAxis
          dataKey="d"
          type="number"
          domain={[0, 305]}
          ticks={X_TICKS}
          interval={0}
          height={95}
          axisLine={false}
          tickLine={{ stroke: '#000', strokeWidth: 2 }}
          tickSize={12}
          tickMargin={17}
          tick={{ fontSize: 27, fill: '#000', fontFamily: FONT }}
          tickFormatter={(v: number) => X_TICK_LABELS[X_TICKS.indexOf(v)] ?? ''}
          allowDuplicatedCategory={false}
        >
          <Label
            content={(props: any) => {
              const vb = props.viewBox || { x: 127.5, y: 971, width: 1716.5, height: 95 };
              return (
                <text
                  x={vb.x + vb.width / 2 - 3}
                  y={vb.y + 90}
                  textAnchor="middle"
                  fontSize={27}
                  fontWeight="bold"
                  fontFamily={FONT}
                  fill="#000"
                >
                  Date
                </text>
              );
            }}
          />
        </XAxis>
        <YAxis
          type="number"
          domain={[-1, 3]}
          ticks={Y_TICKS}
          interval={0}
          width={127.5}
          axisLine={false}
          tickLine={{ stroke: '#000', strokeWidth: 2 }}
          tickSize={13}
          tickMargin={9}
          tick={{ fontSize: 28, fill: '#000', fontFamily: FONT }}
        >
          <Label
            content={(props: any) => {
              const vb = props.viewBox || { x: 0, y: 18, width: 127.5, height: 953 };
              const cx = vb.x + 24;
              const cy = vb.y + vb.height / 2;
              return (
                <text
                  x={cx}
                  y={cy}
                  transform={`rotate(-90 ${cx} ${cy})`}
                  textAnchor="middle"
                  dominantBaseline="central"
                  fontSize={26}
                  fontWeight="bold"
                  fontFamily={FONT}
                  fill="#000"
                >
                  Mean Water Level (ft, NAVD 88)
                </text>
              );
            }}
          />
        </YAxis>
        {SERIES.map((s) => (
          <Line
            key={s.name}
            data={toRows(s.points)}
            dataKey="v"
            name={s.name}
            type="linear"
            stroke={s.color}
            strokeWidth={s.width}
            strokeLinejoin="round"
            strokeLinecap="round"
            dot={false}
            activeDot={false}
            isAnimationActive={false}
          />
        ))}
        <ReferenceArea
          x1={0}
          x2={305}
          y1={-1}
          y2={3}
          fill="none"
          fillOpacity={0}
          stroke="#000"
          strokeWidth={7}
          ifOverflow="visible"
        />
        <Legend
          layout="vertical"
          align="center"
          verticalAlign="middle"
          content={() => <LegendBox />}
          wrapperStyle={{ position: 'absolute', left: 211, top: 51, width: 'auto', height: 'auto' }}
        />
      </LineChart>
    </div>
  );
}
